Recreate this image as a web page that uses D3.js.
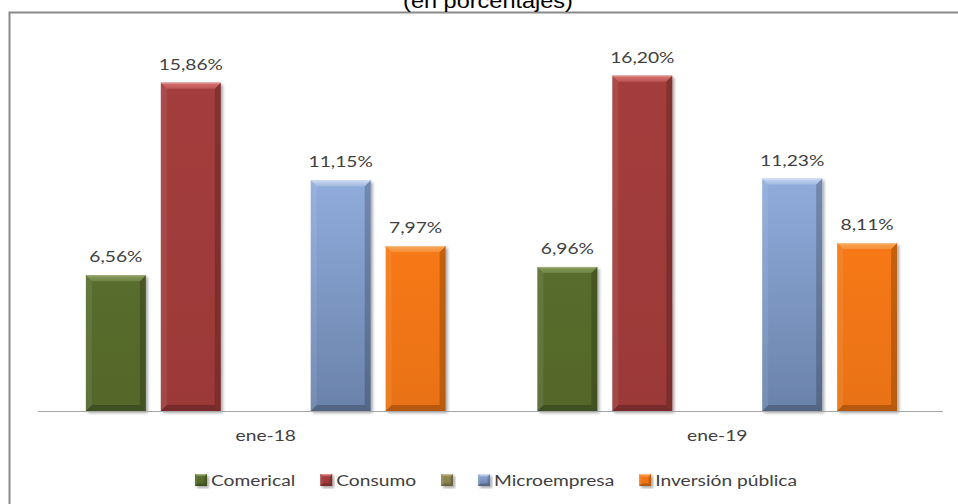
<!DOCTYPE html>
<html>
<head>
<meta charset="utf-8">
<script src="https://cdn.jsdelivr.net/npm/d3@7/dist/d3.min.js"></script>
<style>
  html, body { margin: 0; padding: 0; background: #ffffff; }
  svg { display: block; }
</style>
</head>
<body>
<svg id="chart" width="958" height="504"></svg>
<script>
// Tasas por tipo de crédito, enero 2018 y enero 2019
const categories = ["ene-18", "ene-19"];
const seriesNames = ["Comerical", "Consumo", "", "Microempresa", "Inversión pública"];
const comerical = [6.56, 6.96];
const consumo = [15.86, 16.20];
const serieVacia = [null, null];
const microempresa = [11.15, 11.23];
const inversionPublica = [7.97, 8.11];
const seriesColors = ["#566a2c", "#9f3b3a", "#8c8550", "#7c97c6", "#f07513"];
const topColors = ["#8a9c5c", "#d9726f", "#b5ad78", "#c8daf5", "#f8a85a"];
const title = "(en porcentajes)";

const seriesValues = [comerical, consumo, serieVacia, microempresa, inversionPublica];

const svg = d3.select("#chart");
const stretch = 1.2;           // text in this chart is drawn slightly widened
const labelFont = "Lato, 'Open Sans', sans-serif";

const es = d3.formatLocale({ decimal: ",", thousands: ".", grouping: [3], currency: ["", ""] });
const fmt = v => es.format(".2f")(v) + "%";

// frame
svg.append("rect")
  .attr("x", 9.5).attr("y", 12.5)
  .attr("width", 970).attr("height", 520)
  .attr("fill", "none").attr("stroke", "#8a8a8a").attr("stroke-width", 2);

// title (partly above the frame)
svg.append("g")
  .attr("transform", `translate(488,8) scale(1.12,1)`)
  .append("text")
  .attr("text-anchor", "middle")
  .attr("font-family", "'Liberation Sans', Arial, sans-serif")
  .attr("font-size", 21)
  .attr("fill", "#000")
  .text(title);

// scales
const x0 = d3.scaleBand().domain(categories).range([40, 943]).paddingInner(0.17).paddingOuter(0.085);
const x1 = d3.scaleBand().domain(d3.range(seriesNames.length)).range([0, x0.bandwidth()])
  .paddingInner(0.2).paddingOuter(0.1);
const y = d3.scaleLinear().domain([0, 18]).range([411, 38.4]);

// defs: shadow + gradients
const defs = svg.append("defs");
const f = defs.append("filter").attr("id", "shadow")
  .attr("x", "-20%").attr("y", "-10%").attr("width", "140%").attr("height", "130%");
f.append("feGaussianBlur").attr("in", "SourceAlpha").attr("stdDeviation", 1.6).attr("result", "b");
f.append("feOffset").attr("in", "b").attr("dx", 2).attr("dy", 1.5).attr("result", "o");
f.append("feComponentTransfer").attr("in", "o").attr("result", "s")
  .append("feFuncA").attr("type", "linear").attr("slope", 0.35);
const fm = f.append("feMerge");
fm.append("feMergeNode").attr("in", "s");
fm.append("feMergeNode").attr("in", "SourceGraphic");

seriesColors.forEach((c, i) => {
  const g = defs.append("linearGradient").attr("id", "body" + i)
    .attr("x1", 0).attr("y1", 0).attr("x2", 0).attr("y2", 1);
  if (i === 3) {
    g.append("stop").attr("offset", "0%").attr("stop-color", "#90acdc");
    g.append("stop").attr("offset", "100%").attr("stop-color", "#6a82aa");
  } else {
    g.append("stop").attr("offset", "0%").attr("stop-color", d3.color(c).brighter(0.08));
    g.append("stop").attr("offset", "100%").attr("stop-color", d3.color(c).darker(0.08));
  }
  const t = defs.append("linearGradient").attr("id", "top" + i)
    .attr("x1", 0).attr("y1", 0).attr("x2", 0).attr("y2", 1);
  t.append("stop").attr("offset", "0%").attr("stop-color", topColors[i]);
  t.append("stop").attr("offset", "100%").attr("stop-color", d3.interpolateRgb(topColors[i], c)(0.5));
});

// bevelled block
function bevelBlock(g, x, yTop, w, h, i, b) {
  const blk = g.append("g").attr("filter", "url(#shadow)");
  blk.append("rect").attr("x", x).attr("y", yTop).attr("width", w).attr("height", h)
    .attr("fill", `url(#body${i})`);
  const pts = a => a.map(p => p.join(",")).join(" ");
  // left
  blk.append("polygon").attr("points", pts([[x, yTop], [x + b, yTop + b], [x + b, yTop + h - b], [x, yTop + h]]))
    .attr("fill", "#ffffff").attr("fill-opacity", 0.08);
  // right
  blk.append("polygon").attr("points", pts([[x + w, yTop], [x + w, yTop + h], [x + w - b, yTop + h - b], [x + w - b, yTop + b]]))
    .attr("fill", "#000000").attr("fill-opacity", 0.2);
  // bottom
  blk.append("polygon").attr("points", pts([[x, yTop + h], [x + b, yTop + h - b], [x + w - b, yTop + h - b], [x + w, yTop + h]]))
    .attr("fill", "#000000").attr("fill-opacity", 0.22);
  // top
  blk.append("polygon").attr("points", pts([[x, yTop], [x + w, yTop], [x + w - b, yTop + b], [x + b, yTop + b]]))
    .attr("fill", `url(#top${i})`);
  blk.append("line").attr("x1", x + 1).attr("x2", x + w - 1).attr("y1", yTop + 0.5).attr("y2", yTop + 0.5)
    .attr("stroke", "#ffffff").attr("stroke-opacity", 0.25);
}

// bars
const rows = [];
categories.forEach((cat, ci) => {
  seriesValues.forEach((vals, si) => {
    if (vals[ci] != null) rows.push({ cat, si, v: vals[ci] });
  });
});

const barsG = svg.append("g");
rows.forEach(d => {
  const bx = x0(d.cat) + x1(d.si);
  const bw = x1.bandwidth();
  bevelBlock(barsG, bx, y(d.v), bw, y(0) - y(d.v), d.si, 6);
});

// value labels
svg.append("g").selectAll("g").data(rows).join("g")
  .attr("transform", d => `translate(${x0(d.cat) + x1(d.si) + x1.bandwidth() / 2},${y(d.v) - 13}) scale(${stretch},1)`)
  .append("text")
  .attr("text-anchor", "middle")
  .attr("font-family", labelFont)
  .attr("font-size", 16)
  .attr("fill", "#404040")
  .text(d => fmt(d.v));

// category axis
const axis = svg.append("g").attr("transform", `translate(0,${y(0)})`)
  .call(d3.axisBottom(x0).tickSize(0).tickSizeOuter(0).tickPadding(0));
axis.select(".domain").attr("stroke", "#a6a6a6").attr("stroke-width", 1.2).attr("d", "M38,0.5H943");
axis.selectAll(".tick text")
  .attr("y", 30.5).attr("dy", null)
  .attr("transform", `scale(${stretch},1)`)
  .attr("font-family", labelFont)
  .attr("font-size", 16)
  .attr("fill", "#404040");

// legend
const legend = svg.append("g").attr("transform", "translate(0,486)");
const items = legend.selectAll("g").data(seriesNames).join("g");
const mk = 12, gapText = 4, gapItem = 25;
items.each(function (name, i) {
  const g = d3.select(this);
  bevelBlock(g, 0, -mk, mk, mk, i, 2.5);
  if (name) {
    g.append("g").attr("transform", `translate(${mk + gapText},0) scale(${stretch},1)`)
      .append("text")
      .attr("font-family", labelFont)
      .attr("font-size", 16)
      .attr("fill", "#404040")
      .text(name);
  }
});
const widths = [];
items.each(function (name) {
  const t = d3.select(this).select("text").node();
  widths.push(mk + (t ? gapText + t.getComputedTextLength() * stretch : 0));
});
const total = d3.sum(widths) + gapItem * (widths.length - 1);
let cx = 496 - total / 2;
items.attr("transform", (d, i) => {
  const tx = cx;
  cx += widths[i] + gapItem;
  return `translate(${tx},0)`;
});
</script>
</body>
</html>
